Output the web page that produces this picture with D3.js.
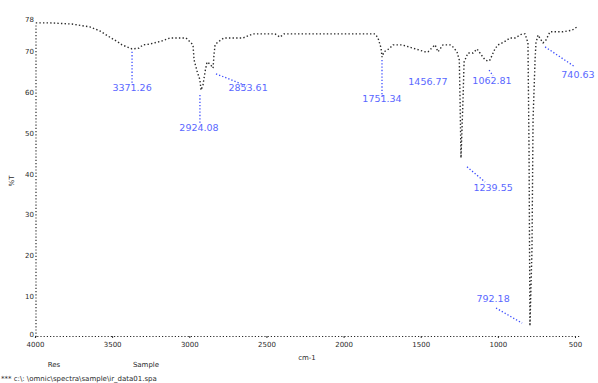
<!DOCTYPE html>
<html>
<head>
<meta charset="utf-8">
<script src="https://cdn.jsdelivr.net/npm/d3@7"></script>
<style>
  html, body { margin: 0; padding: 0; background: #fff; }
  svg { display: block; }
  text { font-family: "DejaVu Sans", sans-serif; }
</style>
</head>
<body>
<script>
// ---- data ----
const wavenumbers = [3995, 3903, 3760, 3644, 3579, 3507, 3462, 3436, 3371, 3326, 3300, 3255, 3183, 3125, 3021, 2976, 2969, 2950, 2931, 2924, 2911, 2898, 2885, 2866, 2846, 2840, 2833, 2814, 2775, 2652, 2587, 2444, 2412, 2386, 1893, 1796, 1777, 1757, 1751, 1738, 1706, 1680, 1621, 1472, 1453, 1407, 1388, 1356, 1310, 1291, 1265, 1250, 1245, 1239, 1226, 1219, 1194, 1161, 1135, 1116, 1083, 1064, 1051, 1019, 999, 960, 921, 889, 843, 824, 805, 798, 792, 779, 772, 759, 753, 740, 720, 707, 688, 662, 578, 519, 487];
const transmittance = [77.0, 77.0, 76.7, 76.0, 75.0, 73.3, 72.3, 71.6, 70.6, 70.8, 71.6, 71.8, 72.5, 73.3, 73.3, 71.6, 67.9, 65.2, 63.0, 60.5, 61.8, 65.0, 67.4, 66.9, 65.9, 69.1, 71.6, 72.3, 73.3, 73.3, 74.3, 74.3, 73.5, 74.3, 74.3, 74.3, 73.3, 70.8, 68.6, 69.9, 70.6, 71.6, 71.6, 69.9, 69.9, 71.6, 69.9, 71.6, 71.6, 71.1, 69.9, 67.9, 58.1, 43.9, 58.1, 67.4, 69.6, 69.6, 70.6, 69.6, 67.9, 67.6, 67.9, 70.6, 71.6, 72.3, 73.3, 73.3, 74.3, 74.3, 72.1, 45.8, 2.7, 21.3, 53.2, 67.9, 72.1, 74.0, 72.8, 72.1, 72.8, 74.8, 74.8, 75.2, 76.0];

const xTicks = [4000, 3500, 3000, 2500, 2000, 1500, 1000, 500];
const yTicks = [0, 10, 20, 30, 40, 50, 60, 70, 78];

const peakLabels = ["3371.26", "2924.08", "2853.61", "1751.34", "1456.77", "1062.81", "1239.55", "792.18", "740.63"];
const labelWn    = [3371, 2937, 2619, 1751, 1453, 1038, 1031, 1031, 481];
const labelT     = [60.8, 51.2, 60.8, 58.1, 62.5, 62.7, 36.5, 9.1, 64.2];
const leaderFromWn = [3371, 2931, 2827, 1751, null, 1057, 1200, 1012, 694];
const leaderFromT  = [69.9, 59.3, 64.5, 67.9, null, 65.4, 41.7, 7.1, 71.1];
const leaderToWn   = [3371, 2931, 2626, 1751, null, 1031, 1083, 843, 500];
const leaderToT    = [61.8, 52.2, 61.5, 58.8, null, 64.0, 38.0, 3.4, 66.2];

const yTitle = "%T";
const xTitle = "cm-1";
const footA = "Res";
const footB = "Sample";
const footLine = "*** c:\\: \\omnic\\spectra\\sample\\ir_data01.spa";

// ---- drawing ----
const W = 598, H = 383;
const svg = d3.select("body").append("svg").attr("width", W).attr("height", H);

const x = d3.scaleLinear().domain([4000, 480]).range([35, 578.1]);
const y = d3.scaleLinear().domain([0, 78]).range([337, 18.76]);

const ink = "#2a2a2a";
const blue = "#3b4cff";

// axes
const gx = svg.append("g").attr("transform", "translate(0,336)")
  .call(d3.axisBottom(x).tickValues(xTicks).tickSize(2).tickFormat(d3.format("d")));
const gy = svg.append("g").attr("transform", "translate(36,0)")
  .call(d3.axisLeft(y).tickValues(yTicks).tickSize(0).tickFormat(d3.format("d")));
[gx, gy].forEach(g => {
  g.select(".domain").attr("stroke", ink).attr("stroke-width", 1.2).attr("stroke-dasharray", "1.2 2");
  g.selectAll(".tick line").attr("stroke", ink);
  g.selectAll(".tick text").attr("fill", ink).attr("font-size", 7);
});
gx.selectAll(".tick text").attr("dy", "0.85em");
gy.selectAll(".tick text").attr("x", 0).attr("dx", "-0.3em");
gy.selectAll(".tick").filter(d => d === 0).select("text").attr("dy", "-0.05em");
gy.select(".domain").attr("d", `M0,${y(0)}V${y(76.8)}`);

// titles
svg.append("text").attr("transform", `translate(14,181) rotate(-90)`)
  .attr("text-anchor", "middle").attr("font-size", 7).attr("fill", ink).text(yTitle);
svg.append("text").attr("x", 307).attr("y", 360)
  .attr("text-anchor", "middle").attr("font-size", 7).attr("fill", ink).text(xTitle);
svg.append("text").attr("x", 54).attr("y", 367)
  .attr("text-anchor", "middle").attr("font-size", 7).attr("fill", ink).text(footA);
svg.append("text").attr("x", 146).attr("y", 367)
  .attr("text-anchor", "middle").attr("font-size", 7).attr("fill", ink).text(footB);
svg.append("text").attr("x", 1).attr("y", 381)
  .attr("font-size", 7).attr("fill", ink).text(footLine);

// spectrum
const pts = wavenumbers.map((w, i) => [w, transmittance[i]]);
svg.append("path").datum(pts)
  .attr("fill", "none").attr("stroke", ink).attr("stroke-width", 1.4)
  .attr("stroke-dasharray", "1.4 2.2")
  .attr("d", d3.line().x(d => x(d[0])).y(d => y(d[1])));

// peak annotations
peakLabels.forEach((lab, i) => {
  if (leaderFromWn[i] !== null) {
    svg.append("line")
      .attr("x1", x(leaderFromWn[i])).attr("y1", y(leaderFromT[i]))
      .attr("x2", x(leaderToWn[i])).attr("y2", y(leaderToT[i]))
      .attr("stroke", blue).attr("stroke-width", 1.3).attr("stroke-dasharray", "1.3 2");
  }
  svg.append("text")
    .attr("x", x(labelWn[i])).attr("y", y(labelT[i]))
    .attr("text-anchor", "middle").attr("dominant-baseline", "middle")
    .attr("font-size", 9.5).attr("fill", blue).attr("opacity", 0.85)
    .text(lab);
});
</script>
</body>
</html>
